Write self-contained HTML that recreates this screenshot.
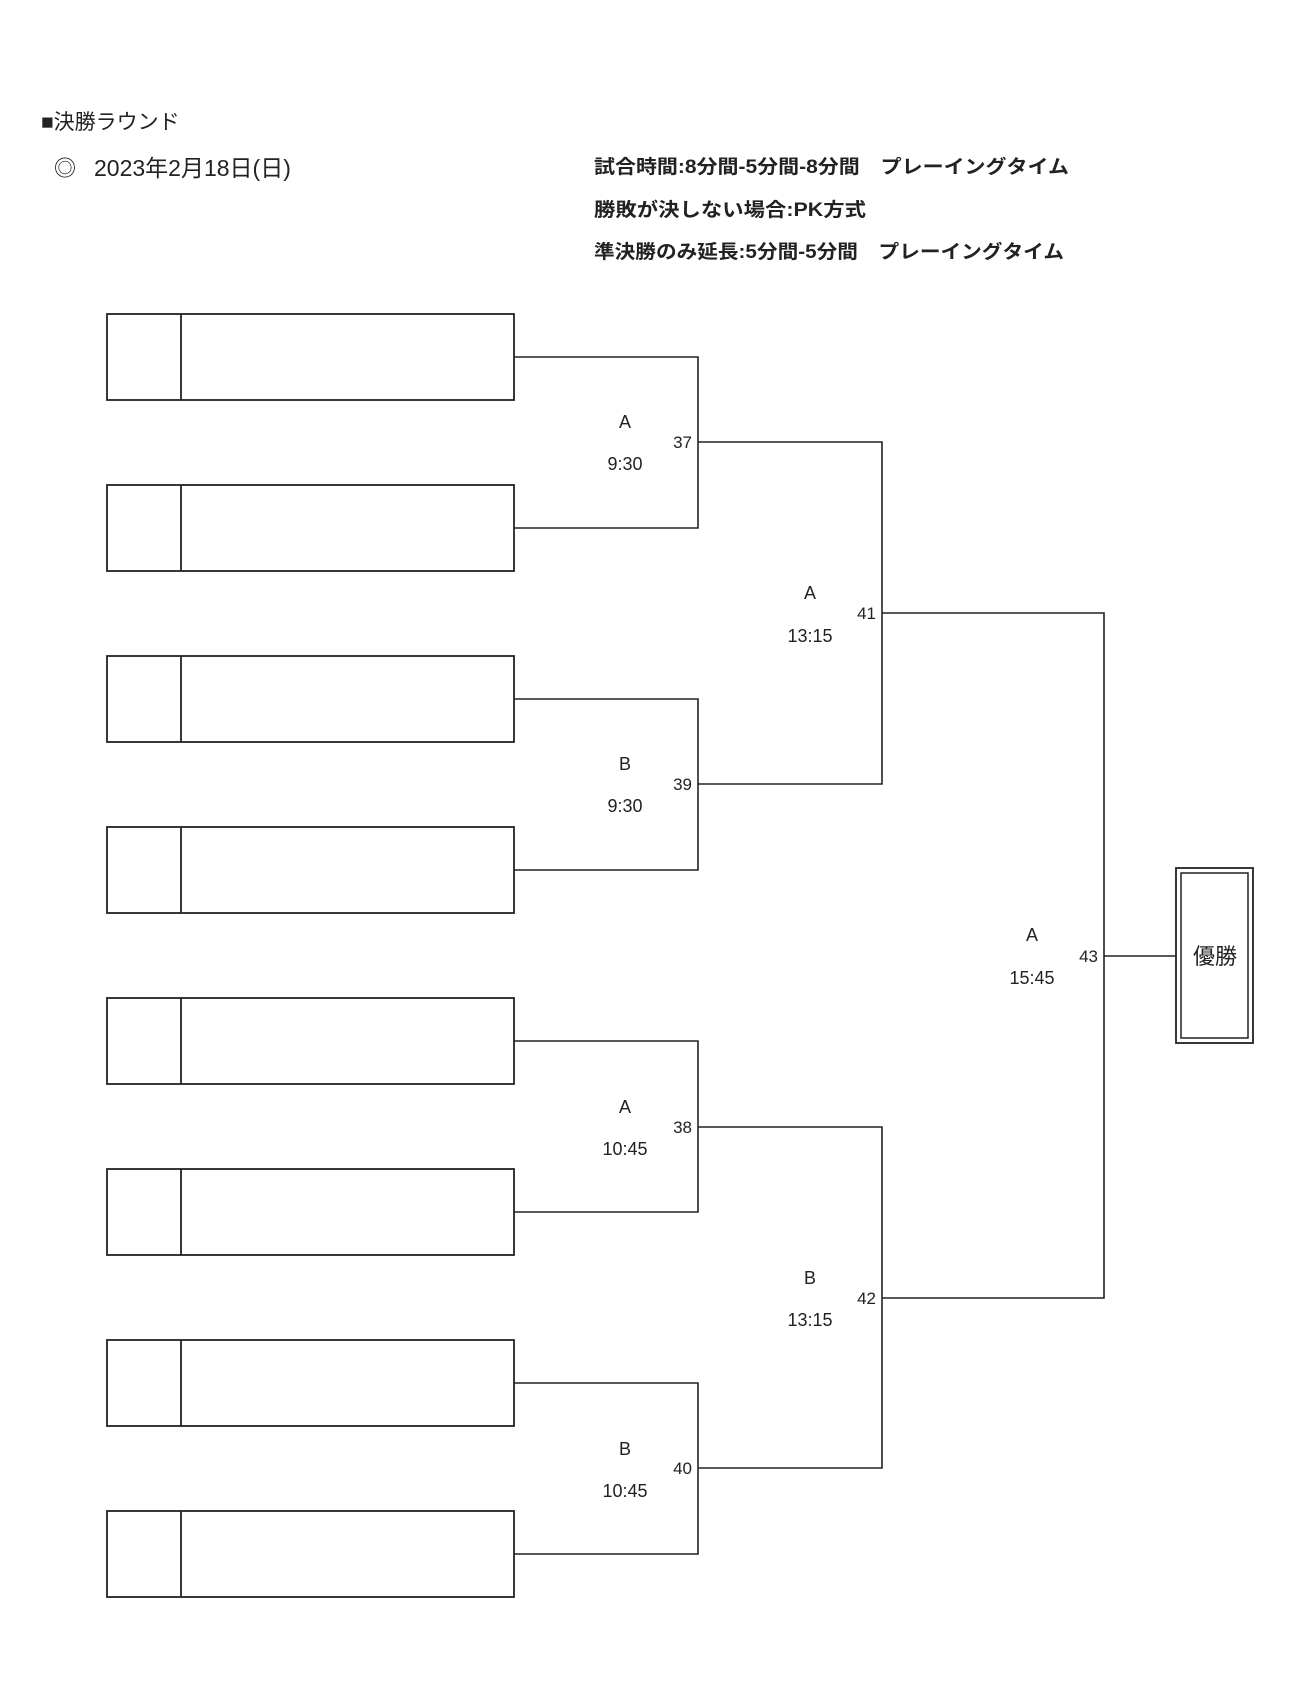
<!DOCTYPE html>
<html><head><meta charset="utf-8"><style>
html,body{margin:0;padding:0;background:#fff;}
svg{display:block;}
text{font-family:"Liberation Sans","Noto Sans CJK JP",sans-serif;fill:#222;}
</style></head><body>
<svg width="1314" height="1682" viewBox="0 0 1314 1682" xmlns="http://www.w3.org/2000/svg">
<g>
<text x="41" y="129" font-size="21">■決勝ラウンド</text>
<text x="54" y="176" font-size="22">◎</text>
<text x="94" y="176" font-size="23">2023年2月18日(日)</text>
<text x="594" y="173" font-size="19" font-weight="bold" textLength="475" lengthAdjust="spacingAndGlyphs">試合時間:8分間-5分間-8分間　プレーイングタイム</text>
<text x="594" y="216" font-size="19" font-weight="bold" textLength="272" lengthAdjust="spacingAndGlyphs">勝敗が決しない場合:PK方式</text>
<text x="594" y="258" font-size="19" font-weight="bold" textLength="470" lengthAdjust="spacingAndGlyphs">準決勝のみ延長:5分間-5分間　プレーイングタイム</text>
</g>
<g fill="none" stroke="#222" stroke-width="1.8">
<rect x="107" y="314" width="407" height="86"/><line x1="181" y1="314" x2="181" y2="400"/>
<rect x="107" y="485" width="407" height="86"/><line x1="181" y1="485" x2="181" y2="571"/>
<rect x="107" y="656" width="407" height="86"/><line x1="181" y1="656" x2="181" y2="742"/>
<rect x="107" y="827" width="407" height="86"/><line x1="181" y1="827" x2="181" y2="913"/>
<rect x="107" y="998" width="407" height="86"/><line x1="181" y1="998" x2="181" y2="1084"/>
<rect x="107" y="1169" width="407" height="86"/><line x1="181" y1="1169" x2="181" y2="1255"/>
<rect x="107" y="1340" width="407" height="86"/><line x1="181" y1="1340" x2="181" y2="1426"/>
<rect x="107" y="1511" width="407" height="86"/><line x1="181" y1="1511" x2="181" y2="1597"/>
</g>
<g fill="none" stroke="#222" stroke-width="1.6">
<polyline points="514,357 698,357 698,528 514,528"/>
<polyline points="514,699 698,699 698,870 514,870"/>
<polyline points="514,1041 698,1041 698,1212 514,1212"/>
<polyline points="514,1383 698,1383 698,1554 514,1554"/>
<polyline points="698,442 882,442 882,784 698,784"/>
<polyline points="698,1127 882,1127 882,1468 698,1468"/>
<polyline points="882,613 1104,613 1104,1298 882,1298"/>
<line x1="1104" y1="956" x2="1176" y2="956"/>
<rect x="1176" y="868" width="77" height="175" stroke-width="1.8"/>
<rect x="1181" y="873" width="67" height="165" stroke-width="1.5"/>
</g>
<g font-size="18" text-anchor="middle">
<text x="625" y="428">A</text><text x="625" y="470">9:30</text>
<text x="625" y="770">B</text><text x="625" y="812">9:30</text>
<text x="625" y="1113">A</text><text x="625" y="1155">10:45</text>
<text x="625" y="1455">B</text><text x="625" y="1497">10:45</text>
<text x="810" y="599">A</text><text x="810" y="642">13:15</text>
<text x="810" y="1284">B</text><text x="810" y="1326">13:15</text>
<text x="1032" y="941">A</text><text x="1032" y="984">15:45</text>
</g>
<g font-size="17" text-anchor="end">
<text x="692" y="448">37</text>
<text x="692" y="790">39</text>
<text x="692" y="1133">38</text>
<text x="692" y="1474">40</text>
<text x="876" y="619">41</text>
<text x="876" y="1304">42</text>
<text x="1098" y="962">43</text>
</g>
<text x="1215" y="964" font-size="22" text-anchor="middle">優勝</text>
</svg>
</body></html>
